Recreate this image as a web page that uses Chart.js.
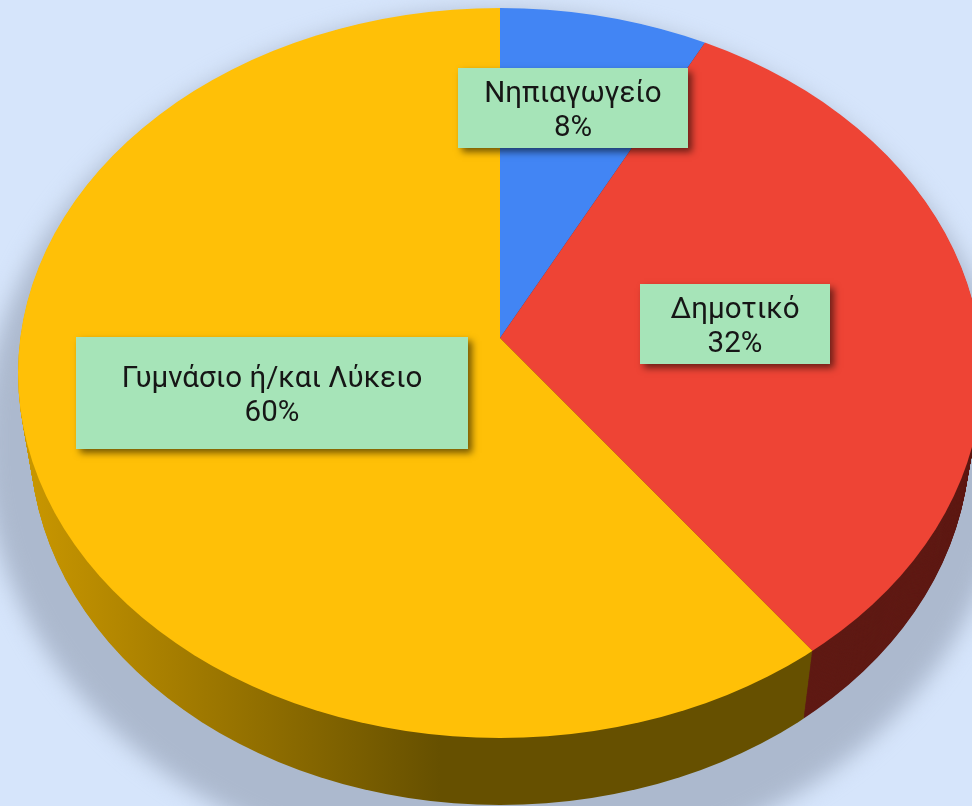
<!DOCTYPE html>
<html>
<head>
<meta charset="utf-8">
<style>
    html, body { margin: 0; padding: 0; background: #d6e5fb; overflow: hidden; }
    #wrap { position: relative; width: 972px; height: 806px; }
</style>
<script src="https://cdn.jsdelivr.net/npm/chart.js@4/dist/chart.umd.min.js"></script>
</head>
<body>
<div id="wrap"><canvas id="grafico" role="img" aria-label="Γράφημα πίτας"></canvas></div>
<script>
const categories = ['Νηπιαγωγείο', 'Δημοτικό', 'Γυμνάσιο ή/και Λύκειο'];
const values = [8, 32, 60];
const topColors = ['#4285f4', '#ee4435', '#ffc007'];
const wallColors = ['#22417a', '#5f1a14', '#665000'];

// Label boxes, same order as categories: x, y, w, h
const labelBoxes = [
    [458, 68, 230, 80],
    [640, 284, 190, 80],
    [76, 337, 392, 112]
];

// Tilted disc: top face and bottom face of the pie, as drawn on screen
const topFace = { cx: 500, cy: 373, rx: 482, ry: 365, apexY: 338 };
const bottomFace = { cx: 500, cy: 440, rx: 470, ry: 365, apexY: 414 };
const apexX = 500;
const WALL_STEPS = 76;

// Chart arcs are circular, this maps them onto the tilted disc
function applyTilt(chart, ctx, face) {
    const { left, right, top, bottom } = chart.chartArea;
    ctx.beginPath();
    ctx.ellipse(face.cx, face.cy, face.rx, face.ry, 0, 0, Math.PI * 2);
    ctx.clip();
    ctx.translate(apexX, face.apexY);
    ctx.transform(1.4, -0.0714, 0, 1.07, 0, 0);
    ctx.translate(-(left + right) / 2, -(top + bottom) / 2);
}

function lerp(a, b, t) {
    return a + (b - a) * t;
}

function drawShadow(ctx) {
    ctx.save();
    ctx.filter = 'blur(11px)';
    ctx.fillStyle = '#acb9ce';
    ctx.beginPath();
    ctx.ellipse(497, 443, 514, 432, 0, 0, Math.PI * 2);
    ctx.fill();
    ctx.restore();
}

function drawWall(chart, ctx) {
    const arcs = chart.getDatasetMeta(0).data;
    const midX = (chart.chartArea.left + chart.chartArea.right) / 2;

    // Yellow side gets darker from left to right, then stays flat
    const xFromScreen = x => midX + (x - apexX) / 1.4;
    const sideGradient = ctx.createLinearGradient(xFromScreen(30), 0, xFromScreen(440), 0);
    sideGradient.addColorStop(0, '#c89600');
    sideGradient.addColorStop(1, wallColors[2]);

    for (let i = WALL_STEPS; i >= 1; i--) {
        const t = i / WALL_STEPS;
        const face = {
            cx: lerp(topFace.cx, bottomFace.cx, t),
            cy: lerp(topFace.cy, bottomFace.cy, t),
            rx: lerp(topFace.rx, bottomFace.rx, t),
            ry: lerp(topFace.ry, bottomFace.ry, t),
            apexY: lerp(topFace.apexY, bottomFace.apexY, t)
        };
        ctx.save();
        applyTilt(chart, ctx, face);
        arcs.forEach((arc, index) => {
            const original = arc.options;
            arc.options = Object.assign({}, original, {
                backgroundColor: index === 2 ? sideGradient : wallColors[index]
            });
            arc.draw(ctx);
            arc.options = original;
        });
        ctx.restore();
    }
}

function drawLabels(ctx) {
    ctx.textAlign = 'center';
    ctx.textBaseline = 'alphabetic';
    categories.forEach((name, index) => {
        const [x, y, w, h] = labelBoxes[index];
        ctx.save();
        ctx.shadowColor = 'rgba(0, 0, 0, 0.55)';
        ctx.shadowBlur = 7;
        ctx.shadowOffsetX = 4;
        ctx.shadowOffsetY = 4;
        ctx.fillStyle = '#a6e4b8';
        ctx.fillRect(x, y, w, h);
        ctx.restore();

        const midY = y + h / 2;
        ctx.fillStyle = '#161616';
        ctx.font = '29.5px Roboto';
        ctx.fillText(name, x + w / 2, midY - 6);
        ctx.fillText(values[index] + '%', x + w / 2, midY + 28);
    });
}

const tiltedPie = {
    id: 'tiltedPie',
    beforeDatasetsDraw(chart) {
        const ctx = chart.ctx;
        drawShadow(ctx);
        drawWall(chart, ctx);
        ctx.save();
        applyTilt(chart, ctx, topFace);
    },
    afterDatasetsDraw(chart) {
        chart.ctx.restore();
        drawLabels(chart.ctx);
    }
};

new Chart(document.getElementById('grafico'), {
    type: 'pie',
    data: {
        labels: categories,
        datasets: [{
            data: values,
            backgroundColor: topColors,
            borderWidth: 0,
            clip: false
        }]
    },
    options: {
        responsive: true,
        maintainAspectRatio: false,
        animation: false,
        layout: { padding: 0 },
        plugins: {
            legend: { display: false },
            tooltip: { enabled: false }
        }
    },
    plugins: [tiltedPie]
});
</script>
</body>
</html>
